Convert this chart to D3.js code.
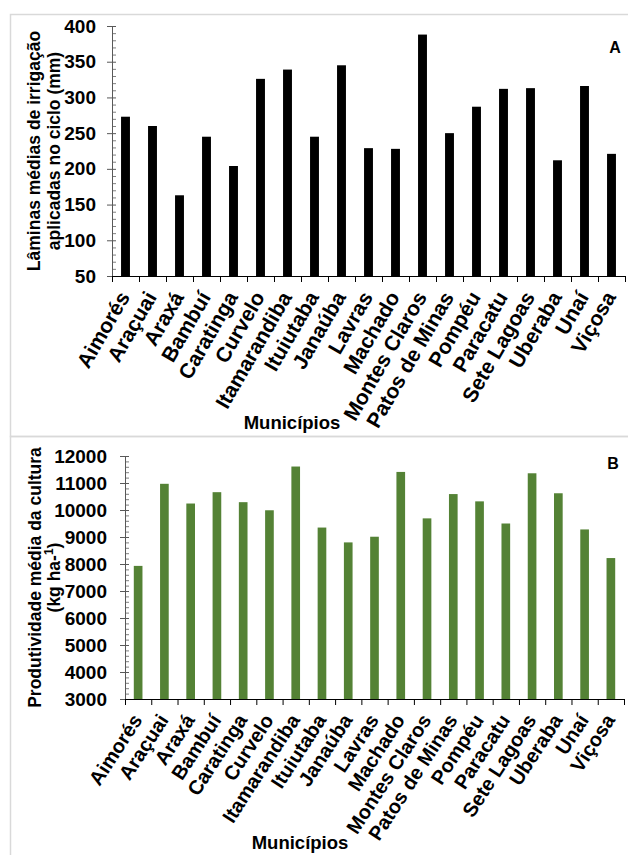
<!DOCTYPE html>
<html>
<head>
<meta charset="utf-8">
<script src="https://cdn.jsdelivr.net/npm/d3@7/dist/d3.min.js"></script>
<style>
  body { margin: 0; background: #fff; }
  text { font-family: "Liberation Sans", Arial, sans-serif; font-weight: bold; fill: #000; }
</style>
</head>
<body>
<div id="chart"></div>
<script>
const municipios = ["Aimorés", "Araçuai", "Araxá", "Bambuí", "Caratinga", "Curvelo", "Itamarandiba",
    "Ituiutaba", "Janaúba", "Lavras", "Machado", "Montes Claros", "Patos de Minas", "Pompéu",
    "Paracatu", "Sete Lagoas", "Uberaba", "Unaí", "Viçosa"];

// lâminas médias de irrigação (mm)
const laminas = [273, 260, 163, 245, 204, 326, 339, 245, 345, 229, 228, 388, 250, 287, 312, 313, 212, 316, 221];

// produtividade média (kg ha-1)
const produtividade = [7930, 10970, 10240, 10660, 10290, 9990, 11610, 9350, 8800, 9010, 11410, 9690,
    10590, 10320, 9500, 11360, 10620, 9280, 8220];

const ticksA = [50, 100, 150, 200, 250, 300, 350, 400];
const ticksB = [3000, 4000, 5000, 6000, 7000, 8000, 9000, 10000, 11000, 12000];

const svg = d3.select("#chart").append("svg")
    .attr("width", 628)
    .attr("height", 855);

// panel frames
svg.append("rect")
    .attr("x", 10.5).attr("y", 14.5)
    .attr("width", 640).attr("height", 422)
    .attr("fill", "none").attr("stroke", "#d9d9d9").attr("stroke-width", 1.5);
svg.append("rect")
    .attr("x", 10.5).attr("y", 436.5)
    .attr("width", 640).attr("height", 440)
    .attr("fill", "none").attr("stroke", "#d9d9d9").attr("stroke-width", 1.5);

function drawPanel(p) {
    const g = svg.append("g");

    const x = d3.scaleBand()
        .domain(municipios)
        .range([p.left, p.right])
        .paddingInner(0.67)
        .paddingOuter(0.335);

    const y = d3.scaleLinear()
        .domain(p.domain)
        .range([p.bottom, p.top]);

    // bars
    g.selectAll("rect.bar")
        .data(p.values)
        .enter()
        .append("rect")
        .attr("class", "bar")
        .attr("x", (d, i) => x(municipios[i]))
        .attr("width", x.bandwidth())
        .attr("y", d => y(d))
        .attr("height", d => y(p.domain[0]) - y(d))
        .attr("fill", p.color);

    // minor ticks (inside)
    const minor = d3.range(p.domain[0], p.domain[1] + 1, p.minorStep)
        .filter(v => p.ticks.indexOf(v) < 0);
    g.append("g")
        .attr("transform", `translate(${p.left},0)`)
        .call(d3.axisRight(y).tickValues(minor).tickSize(4).tickFormat(""))
        .call(a => a.select(".domain").remove())
        .call(a => a.selectAll("line").attr("stroke", "#7f7f7f"));

    // major ticks cross the axis
    g.append("g")
        .attr("transform", `translate(${p.left},0)`)
        .call(d3.axisRight(y).tickValues(p.ticks).tickSize(4).tickFormat(""))
        .call(a => a.select(".domain").remove())
        .call(a => a.selectAll("line").attr("stroke", "#595959"));

    const yAxis = g.append("g")
        .attr("transform", `translate(${p.left},0)`)
        .call(d3.axisLeft(y).tickValues(p.ticks).tickFormat(d3.format("d"))
            .tickSizeInner(5).tickSizeOuter(0).tickPadding(p.labelPad));
    yAxis.select(".domain").attr("stroke", "#595959");
    yAxis.selectAll("line").attr("stroke", "#595959");
    yAxis.selectAll("text")
        .style("font-size", "19px")
        .style("font-family", "'Liberation Sans', Arial, sans-serif")
        .style("font-weight", "bold")
        .attr("fill", "#000");

    // category axis, ticks between categories
    const edges = d3.scaleLinear().domain([0, municipios.length]).range([p.left, p.right]);
    const xAxis = g.append("g")
        .attr("transform", `translate(0,${p.bottom})`)
        .call(d3.axisBottom(edges).tickValues(d3.range(municipios.length + 1)).tickSize(6).tickFormat(""));
    xAxis.select(".domain").attr("stroke", "#000");
    xAxis.selectAll("line").attr("stroke", "#000");

    g.selectAll("text.cat")
        .data(municipios)
        .enter()
        .append("text")
        .attr("class", "cat")
        .attr("text-anchor", "end")
        .attr("transform", d => `translate(${x(d) + x.bandwidth() / 2 + 5},${p.bottom + 21}) rotate(${p.labelAngle})`)
        .style("font-size", p.labelSize + "px")
        .text(d => d);

    // axis titles
    g.append("text")
        .attr("x", p.xTitle[0])
        .attr("y", p.xTitle[1])
        .attr("text-anchor", "middle")
        .style("font-size", "18.5px")
        .text("Municípios");

    const cy = (p.top + p.bottom) / 2;
    p.yTitle.forEach((line, i) => {
        const t = g.append("text")
            .attr("transform", `translate(${p.yTitleX[i]},${cy}) rotate(-90)`)
            .attr("text-anchor", "middle")
            .style("font-size", p.titleSize + "px");
        if (Array.isArray(line)) {
            t.append("tspan").text(line[0]);
            t.append("tspan").attr("dy", -7).style("font-size", "12px").text(line[1]);
            t.append("tspan").attr("dy", 7).text(line[2]);
        } else {
            t.text(line);
        }
    });

    g.append("text")
        .attr("x", p.letter[0])
        .attr("y", p.letter[1])
        .attr("text-anchor", "middle")
        .style("font-size", "16px")
        .text(p.letterText);
}

drawPanel({
    values: laminas,
    domain: [50, 400],
    ticks: ticksA,
    minorStep: 10,
    left: 112, right: 625, top: 26, bottom: 276,
    color: "#000000",
    labelPad: 11,
    labelSize: 21,
    labelAngle: -60,
    titleSize: 17.5,
    yTitle: ["Lâminas médias de irrigação", "aplicadas no ciclo (mm)"],
    yTitleX: [40, 60],
    xTitle: [292, 429],
    letter: [615, 53],
    letterText: "A"
});

drawPanel({
    values: produtividade,
    domain: [3000, 12000],
    ticks: ticksB,
    minorStep: 200,
    left: 125, right: 624, top: 456, bottom: 699,
    color: "#548235",
    labelPad: 13,
    labelSize: 20,
    labelAngle: -57,
    titleSize: 17.5,
    yTitle: ["Produtividade média da cultura", ["(kg ha-", "1", ")"]],
    yTitleX: [41, 60],
    xTitle: [300, 849],
    letter: [613, 469],
    letterText: "B"
});
</script>
</body>
</html>
